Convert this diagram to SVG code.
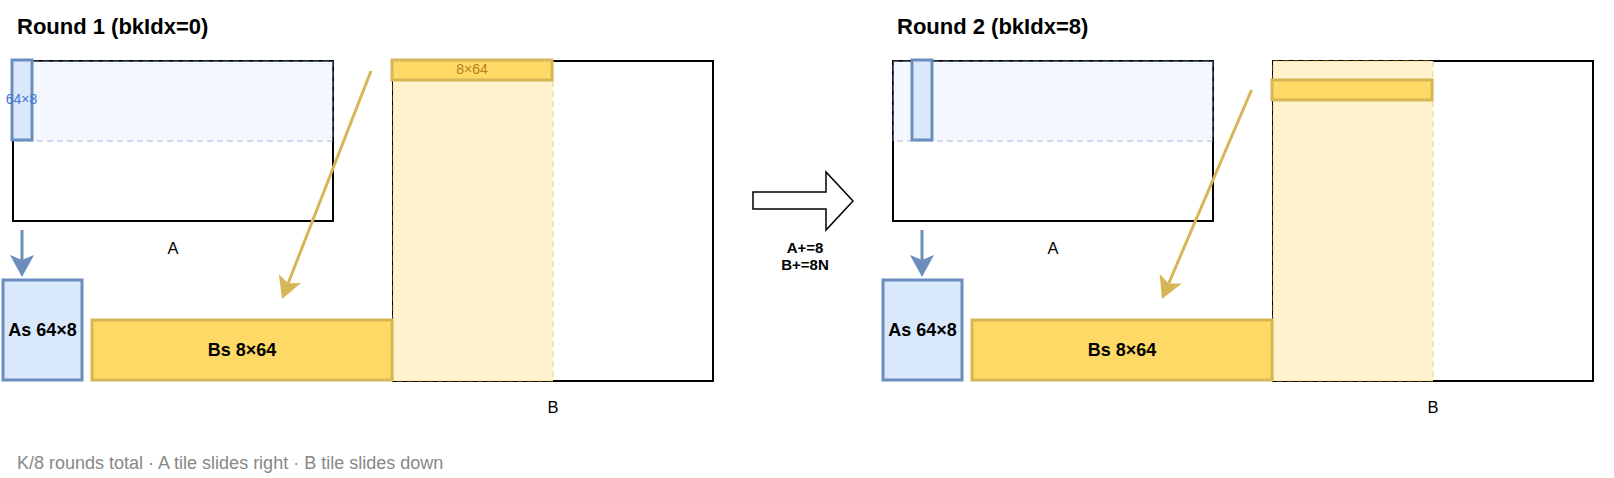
<svg xmlns="http://www.w3.org/2000/svg" width="1614" height="478" viewBox="0 0 1614 478">
<defs>
<style>
.title{font-family:"Liberation Sans",Arial,sans-serif;font-weight:bold;font-size:22px;fill:#000}
.lbl{font-family:"Liberation Sans",Arial,sans-serif;font-size:16.5px;fill:#000;text-anchor:middle}
.blbl{font-family:"Liberation Sans",Arial,sans-serif;font-weight:bold;font-size:18px;fill:#000;text-anchor:middle}
.small{font-family:"Liberation Sans",Arial,sans-serif;font-size:14px;text-anchor:middle}
.step{font-family:"Liberation Sans",Arial,sans-serif;font-weight:bold;font-size:15px;fill:#000;text-anchor:middle}
.foot{font-family:"Liberation Sans",Arial,sans-serif;font-size:18px;fill:#888}
.mat{fill:#fff;stroke:#000;stroke-width:2}
.band{fill:#dae8fc;fill-opacity:0.3;stroke:#6c8ebf;stroke-opacity:0.4;stroke-width:1.5;stroke-dasharray:6 4}
.col{fill:#fff2cc;stroke:#d6b656;stroke-opacity:0.4;stroke-width:1.5;stroke-dasharray:6 4}
.btile{fill:#dae8fc;stroke:#6c8ebf;stroke-width:3}
.ytile{fill:#ffd966;stroke:#d6b656;stroke-width:3}
.barrow{stroke:#6c8ebf;stroke-width:3;fill:none}
.yarrow{stroke:#d6b656;stroke-width:3;fill:none}
</style>
<marker id="mb" viewBox="0 0 22 24" refX="5" refY="12" markerWidth="22" markerHeight="24" markerUnits="userSpaceOnUse" orient="auto">
<path d="M0,0 L22,12 L0,24 L5,12 Z" fill="#6c8ebf"/>
</marker>
<marker id="my" viewBox="0 0 22 24" refX="5" refY="12" markerWidth="22" markerHeight="24" markerUnits="userSpaceOnUse" orient="auto">
<path d="M0,0 L22,12 L0,24 L5,12 Z" fill="#d6b656"/>
</marker>
</defs>
<rect width="1614" height="478" fill="#fff"/>

<!-- Round 1 -->
<g id="round1-title"><text class="title" x="17" y="34">Round 1 (bkIdx=0)</text></g>
<g id="A1">
<rect class="mat" x="13" y="61" width="320" height="160"/>
<rect class="band" x="13" y="61" width="320" height="80"/>
<text class="lbl" x="173" y="254">A</text>
</g>
<g id="tileA1">
<rect class="btile" x="12" y="60" width="20" height="80"/>
<text class="small" x="21.5" y="104" fill="#3f76d4">64×8</text>
</g>
<g id="B1">
<rect class="mat" x="393" y="61" width="320" height="320"/>
<rect class="col" x="393" y="61" width="160" height="320"/>
<text class="lbl" x="553" y="413">B</text>
</g>
<g id="tileB1">
<rect class="ytile" x="392" y="60" width="160" height="20"/>
<text class="small" x="472" y="74" fill="#b8801f">8×64</text>
</g>
<g id="As1">
<rect class="btile" x="3" y="280" width="79" height="100"/>
<text class="blbl" x="42.5" y="336">As 64×8</text>
</g>
<g id="Bs1">
<rect class="ytile" x="92" y="320" width="300" height="60"/>
<text class="blbl" x="242" y="356">Bs 8×64</text>
</g>

<!-- Step arrow -->
<g id="step">
<polygon points="753,192 826,192 826,172 853,201 826,230 826,209 753,209" fill="#fff" stroke="#000" stroke-width="1.5"/>
<text class="step" x="805" y="253">A+=8</text>
<text class="step" x="805" y="270">B+=8N</text>
</g>

<!-- Round 2 -->
<g id="round2-title"><text class="title" x="897" y="34">Round 2 (bkIdx=8)</text></g>
<g id="A2">
<rect class="mat" x="893" y="61" width="320" height="160"/>
<rect class="band" x="893" y="61" width="320" height="80"/>
<text class="lbl" x="1053" y="254">A</text>
</g>
<g id="tileA2">
<rect class="btile" x="912" y="60" width="20" height="80"/>
</g>
<g id="B2">
<rect class="mat" x="1273" y="61" width="320" height="320"/>
<rect class="col" x="1273" y="61" width="160" height="320"/>
<text class="lbl" x="1433" y="413">B</text>
</g>
<g id="tileB2">
<rect class="ytile" x="1272" y="80" width="160" height="20"/>
</g>
<g id="As2">
<rect class="btile" x="883" y="280" width="79" height="100"/>
<text class="blbl" x="922.5" y="336">As 64×8</text>
</g>
<g id="Bs2">
<rect class="ytile" x="972" y="320" width="300" height="60"/>
<text class="blbl" x="1122" y="356">Bs 8×64</text>
</g>

<g id="connectors">
<line class="barrow" x1="22" y1="230" x2="22" y2="260" marker-end="url(#mb)"/>
<line class="yarrow" x1="371" y1="71" x2="288.2" y2="283.2" marker-end="url(#my)"/>
<line class="barrow" x1="922" y1="230" x2="922" y2="260" marker-end="url(#mb)"/>
<line class="yarrow" x1="1251.5" y1="90" x2="1168.7" y2="283.4" marker-end="url(#my)"/>
</g>

<g id="footer"><text class="foot" x="17" y="469">K/8 rounds total · A tile slides right · B tile slides down</text></g>
</svg>
